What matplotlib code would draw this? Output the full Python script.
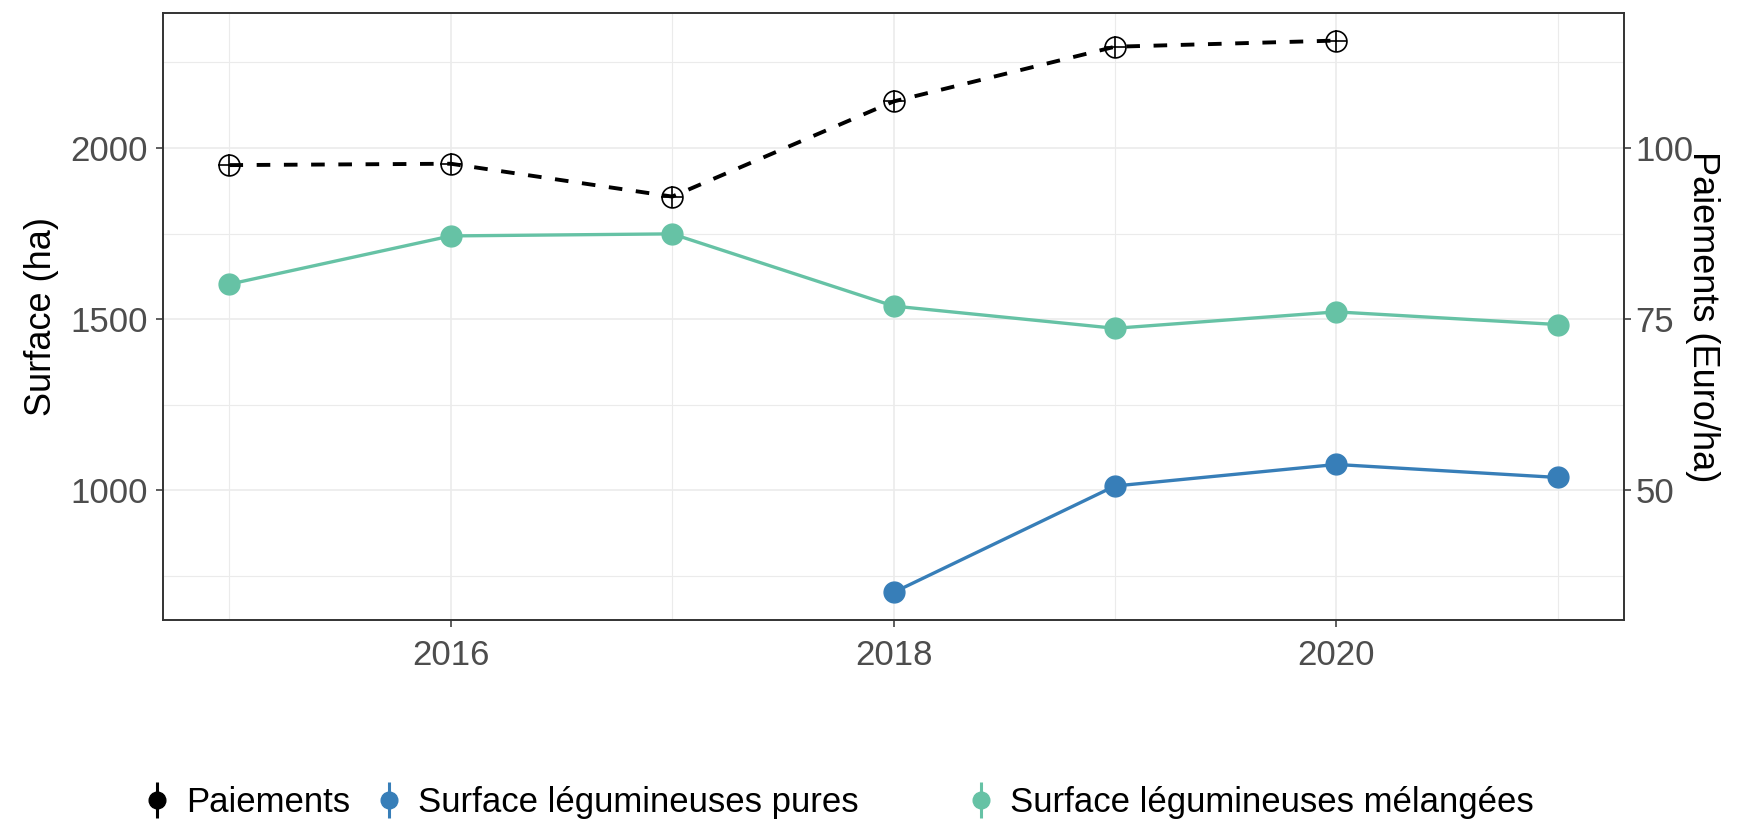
import matplotlib

matplotlib.use("Agg")

import matplotlib.pyplot as plt
from matplotlib.legend_handler import HandlerTuple
from matplotlib.lines import Line2D

plt.rcParams["font.family"] = ["Liberation Sans", "DejaVu Sans"]

# surfaces in ha, payments in Euro/ha
years_paiements = [2015, 2016, 2017, 2018, 2019, 2020]
paiements = [97.5, 97.7, 92.9, 106.8, 114.8, 115.7]

years_pures = [2018, 2019, 2020, 2021]
surface_pures = [701, 1012, 1075, 1037]

years_melangees = [2015, 2016, 2017, 2018, 2019, 2020, 2021]
surface_melangees = [1602, 1743, 1749, 1538, 1473, 1521, 1484]

# payments are drawn on the surface scale, right axis shows value / 20
SEC_FACTOR = 20

COL_PAIEMENTS = "black"
COL_PURES = "#377EB8"
COL_MELANGEES = "#66C2A5"
GRID = "#EBEBEB"
BORDER = "#333333"
TICK_TEXT = "#4D4D4D"

fig = plt.figure(figsize=(17.42, 8.27), dpi=100)
ax = fig.add_axes([0.0936, 0.2503, 0.8387, 0.734])

pai_scaled = [v * SEC_FACTOR for v in paiements]

ax.plot(years_melangees, surface_melangees, color=COL_MELANGEES, lw=2.4,
        marker="o", ms=15, zorder=3)
ax.plot(years_pures, surface_pures, color=COL_PURES, lw=2.4,
        marker="o", ms=15, zorder=3)
ax.plot(years_paiements, pai_scaled, color=COL_PAIEMENTS, lw=2.8,
        dashes=(3.5, 3.5), zorder=4)
ax.plot(years_paiements, pai_scaled, ls="none", marker="o", ms=15,
        mfc="none", mec=COL_PAIEMENTS, mew=1.2, zorder=5)
ax.plot(years_paiements, pai_scaled, ls="none", marker="+", ms=16,
        mec=COL_PAIEMENTS, mew=1.2, zorder=5)

# ggplot-style 5% expansion of the data range
all_y = surface_melangees + surface_pures + pai_scaled
all_x = years_melangees + years_pures + years_paiements
ypad = 0.05 * (max(all_y) - min(all_y))
xpad = 0.05 * (max(all_x) - min(all_x))
ax.set_ylim(min(all_y) - ypad, max(all_y) + ypad)
ax.set_xlim(min(all_x) - xpad, max(all_x) + xpad)

ax.set_xticks([2016, 2018, 2020])
ax.set_xticks([2015, 2017, 2019, 2021], minor=True)
ax.set_yticks([1000, 1500, 2000])
ax.set_yticks([750, 1250, 1750, 2250], minor=True)
ax.grid(True, which="major", color=GRID, lw=1.2)
ax.grid(True, which="minor", color=GRID, lw=0.8)
ax.set_axisbelow(True)

ax.tick_params(which="major", length=5, width=1.1, color=BORDER,
               labelsize=25, labelcolor=TICK_TEXT)
ax.tick_params(axis="x", pad=9)
ax.tick_params(axis="y", pad=6)
ax.tick_params(which="minor", length=0)
for sp in ax.spines.values():
    sp.set_color(BORDER)
    sp.set_linewidth(1.4)

ax.set_ylabel("Surface (ha)", fontsize=26, labelpad=8)

sec = ax.secondary_yaxis("right", functions=(lambda y: y / SEC_FACTOR,
                                             lambda y: y * SEC_FACTOR))
sec.set_yticks([50, 75, 100])
sec.tick_params(length=5, width=1.1, color=BORDER, labelsize=25,
                labelcolor=TICK_TEXT, pad=3)
sec.spines["right"].set_visible(False)
sec.set_ylabel("Paiements (Euro/ha)", fontsize=26, rotation=-90,
               labelpad=19)


def key(color):
    dot = Line2D([], [], ls="none", marker="o", ms=12, color=color)
    bar = Line2D([], [], ls="none", marker="|", ms=26, mew=2.2, color=color)
    return (bar, dot)


handles = [key(COL_PAIEMENTS), key(COL_PURES), key(COL_MELANGEES)]
labels = ["Paiements", "Surface légumineuses pures",
          "Surface légumineuses mélangées"]

leg_kw = dict(frameon=False, fontsize=25, handlelength=1.0,
              handletextpad=0.35, columnspacing=0.6, borderaxespad=0,
              handler_map={tuple: HandlerTuple(ndivide=1, pad=0)})
fig.legend(handles[:2], labels[:2], ncol=2, loc="center left",
           bbox_to_anchor=(0.072, 0.03), **leg_kw)
fig.legend(handles[2:], labels[2:], ncol=1, loc="center left",
           bbox_to_anchor=(0.545, 0.03), **leg_kw)

fig.savefig("out.png", dpi=100)
